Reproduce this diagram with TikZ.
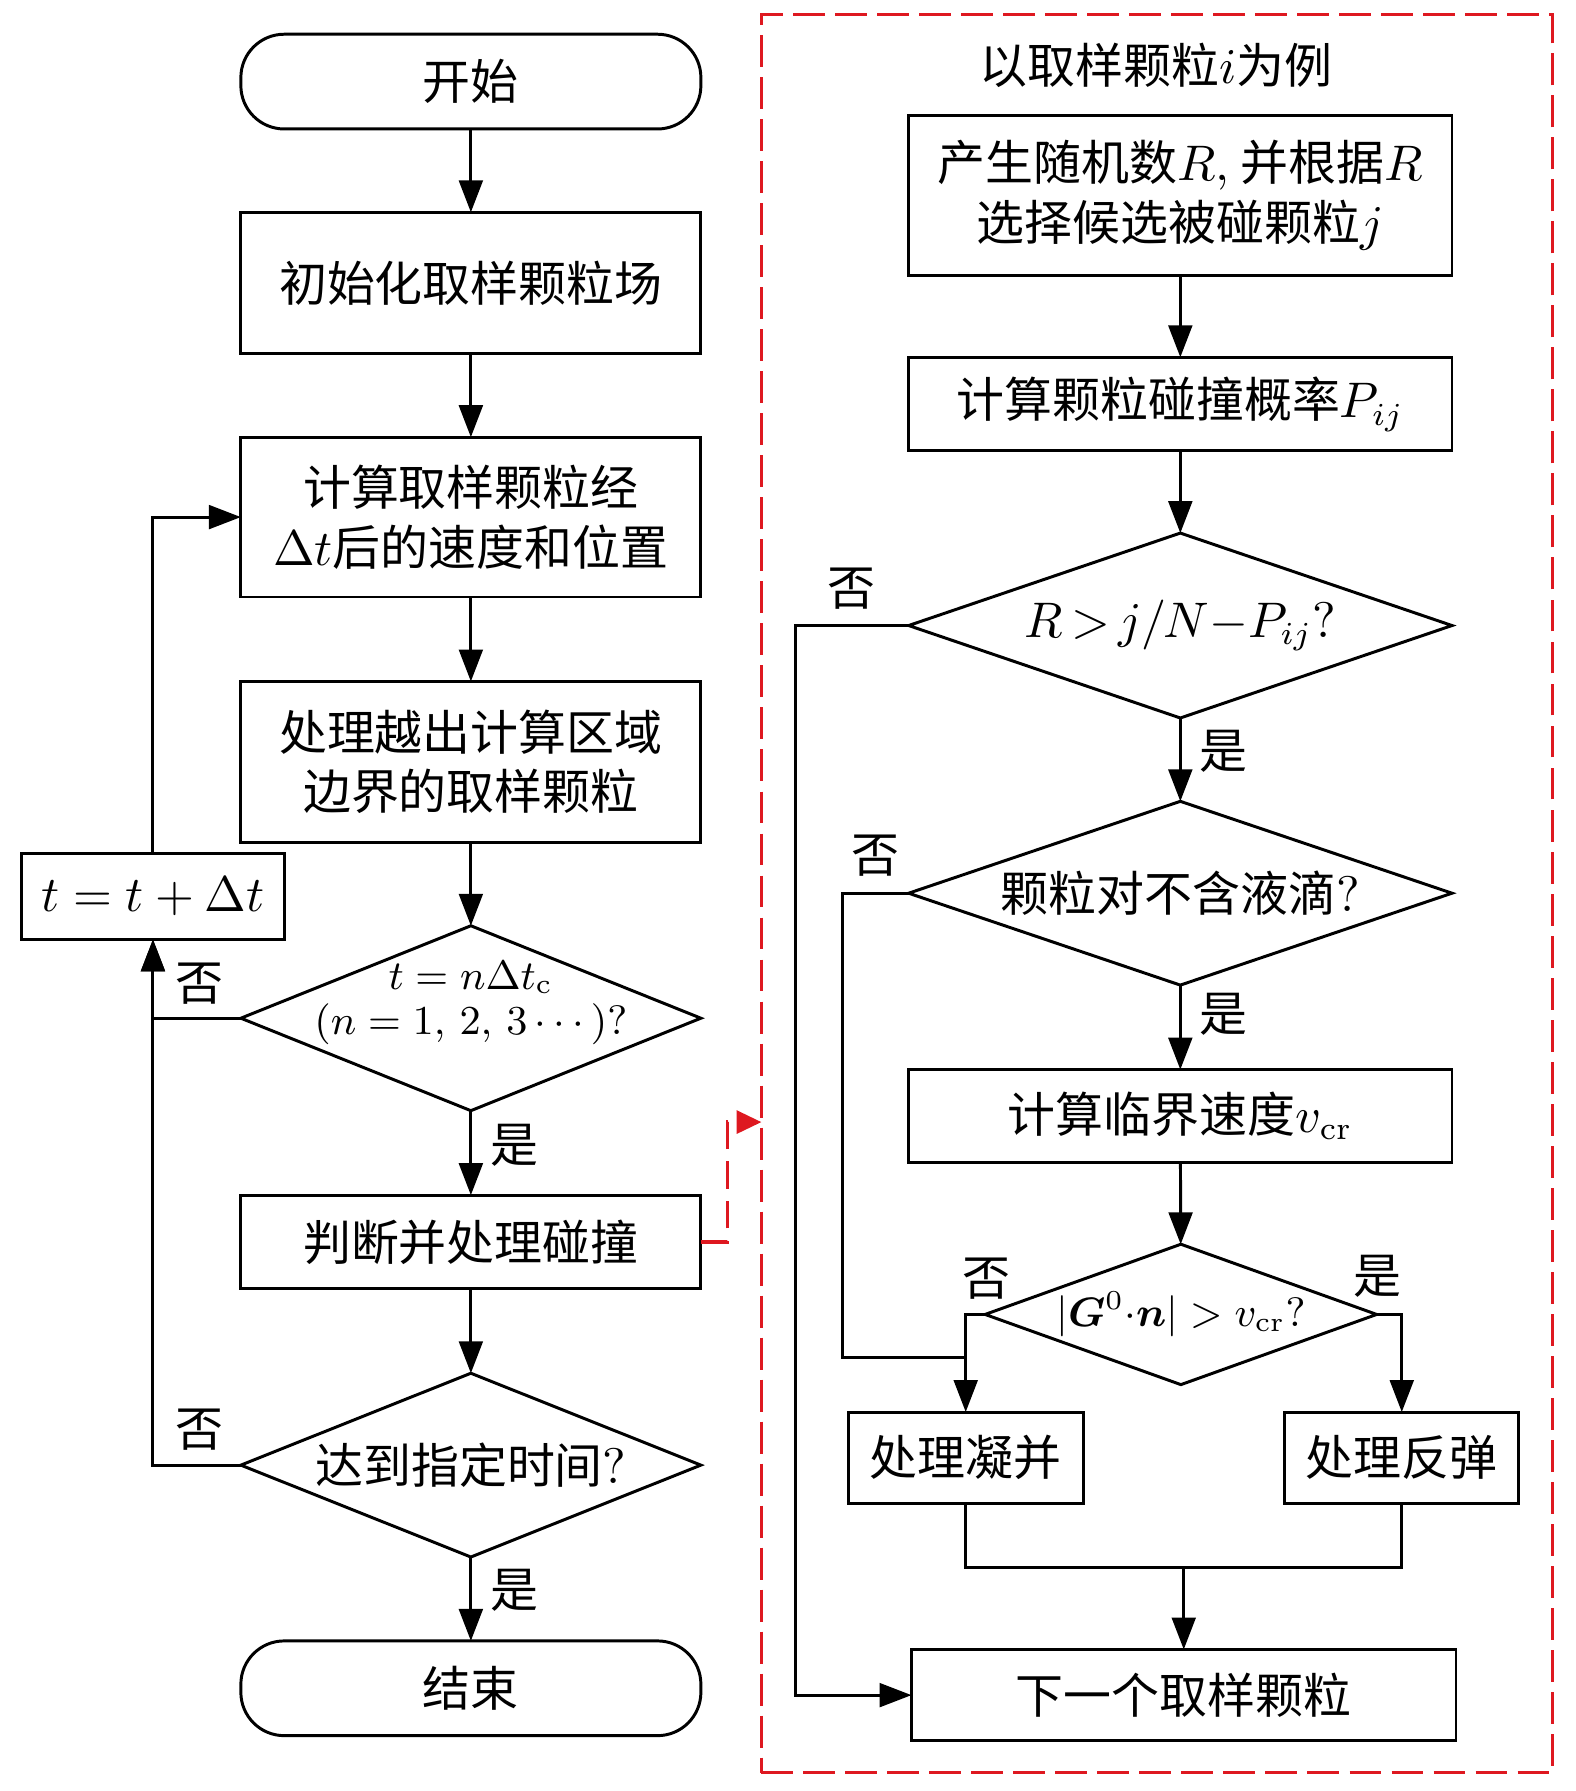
\documentclass[tikz,border=0pt]{standalone}
\usepackage{amsmath}
\usepackage[no-math]{fontspec}
\newfontfamily\cjk{Noto Sans CJK SC}
\usetikzlibrary{shapes.geometric,arrows.meta}
\definecolor{framered}{RGB}{222,24,32}
\begin{document}
\begin{tikzpicture}[x=0.25pt,y=-0.25pt,
  every node/.style={font=\cjk\fontsize{10.5}{13}\selectfont},
  proc/.style={draw,line width=0.65pt,inner sep=0pt,outer sep=0pt,align=center},
  term/.style={proc,rounded corners=9.5pt,minimum width=100.75pt,minimum height=20.75pt},
  decision/.style={draw,diamond,aspect=2.5,line width=0.65pt,inner sep=0pt,outer sep=0pt},
  arr/.style={line width=0.65pt,-{Triangle[length=7pt,width=5.2pt]}},
  link/.style={line width=0.65pt},
  subframe/.style={draw=framered,line width=0.6pt,dash pattern=on 7pt off 2.2pt,inner sep=0pt,outer sep=0pt},
  redarr/.style={framered,line width=0.7pt,dash pattern=on 6pt off 2.7pt,-{Triangle[length=5.4pt,width=5pt]}}
]
\useasboundingbox (0,0) rectangle (1380,1569);
% main loop
\node[term] (start) at (412.5,71.5) {开始};
\node[proc,minimum width=100.75pt,minimum height=31pt] (init) at (412.5,248) {初始化取样颗粒场};
\node[proc,minimum width=100.75pt,minimum height=35pt] (move) at (412.5,453) {计算取样颗粒经\\$\Delta t$后的速度和位置};
\node[proc,minimum width=100.75pt,minimum height=35.25pt] (bound) at (412.5,667.5) {处理越出计算区域\\边界的取样颗粒};
\node[decision,minimum width=100.75pt,minimum height=40.5pt,font=\fontsize{9}{10}\selectfont] (sample) at (412.5,892)
  {\raisebox{1.1pt}[0pt][0pt]{\makebox[0pt]{\begin{tabular}{@{}c@{}}$t=n\Delta t_\mathrm{c}$\\$(n=1,\,2,\,3\cdots)?$\end{tabular}}}};
\node[proc,minimum width=100.75pt,minimum height=20.5pt] (coll) at (412.5,1088) {判断并处理碰撞};
\node[decision,minimum width=100.75pt,minimum height=40.25pt] (done) at (412.5,1283.5) {\makebox[0pt]{达到指定时间$?$}};
\node[term] (stop) at (412.5,1479) {结束};
\node[proc,minimum width=57.5pt,minimum height=18.75pt] (tstep) at (134,785.5) {$t=t+\Delta t$};
% collision subroutine
\node[subframe,minimum width=173.25pt,minimum height=385pt] (sub) at (1013.5,783) {};
\node (title) at (1013,57) {以取样颗粒$i$为例};
\node[proc,minimum width=119pt,minimum height=35pt] (pick) at (1034,171) {产生随机数$R,$ 并根据$R$\\选择候选被碰颗粒$j$};
\node[proc,minimum width=119pt,minimum height=20.5pt] (prob) at (1034,354) {计算颗粒碰撞概率$P_{ij}$};
\node[decision,minimum width=119pt,minimum height=40.5pt] (accept) at (1034,548) {\makebox[0pt]{$R{\,>\,}j/N{-}P_{ij}?$}};
\node[decision,minimum width=119pt,minimum height=40.25pt] (pair) at (1034,782.5) {\makebox[0pt]{颗粒对不含液滴$?$}};
\node[proc,minimum width=119pt,minimum height=20.25pt] (vcrit) at (1034,977.5) {计算临界速度$v_\mathrm{cr}$};
\node[decision,minimum width=85.75pt,minimum height=30.75pt,font=\fontsize{9}{11}\selectfont] (impact) at (1034.5,1151.5)
  {\makebox[0pt]{$|\boldsymbol{G}^0{\cdot}\boldsymbol{n}|>v_\mathrm{cr}?$}};
\node[proc,minimum width=51.5pt,minimum height=20pt] (merge) at (846,1277) {处理凝并};
\node[proc,minimum width=51.25pt,minimum height=20pt] (bounce) at (1228,1277) {处理反弹};
\node[proc,minimum width=119.25pt,minimum height=20pt] (next) at (1037,1485) {下一个取样颗粒};
% yes / no labels
\node (no1) at (175,862) {否};
\node (no2) at (175,1252) {否};
\node (yes1) at (451,1003) {是};
\node (yes2) at (451,1393) {是};
\node (no3) at (746,516) {否};
\node (yes3) at (1072,658) {是};
\node (no4) at (767,750) {否};
\node (yes4) at (1072,889) {是};
\node (no5) at (864,1120) {否};
\node (yes5) at (1207,1118) {是};
\coordinate (inlet) at (667,983);
\coordinate (j1) at (846,1189);
\coordinate (j2) at (1037,1373);
% main flow
\draw[arr] (start) -- (init);
\draw[arr] (init) -- (move);
\draw[arr] (move) -- (bound);
\draw[arr] (bound) -- (sample);
\draw[arr] (sample) -- (coll);
\draw[arr] (coll) -- (done);
\draw[arr] (done) -- (stop);
% time loop
\draw[arr] (sample.west) -| (tstep.south);
\draw[arr] (done.west) -| (tstep.south);
\draw[arr] (tstep.north) |- (move.west);
% into subroutine
\draw[redarr] (coll.east) -- ++(23,0) |- (inlet);
% subroutine flow
\draw[arr] (pick) -- (prob);
\draw[arr] (prob) -- (accept);
\draw[arr] (accept) -- (pair);
\draw[arr] (pair) -- (vcrit);
\draw[arr] (vcrit) -- (impact);
\draw[arr] (impact.west) -| (merge.north);
\draw[arr] (impact.east) -| (bounce.north);
\draw[link] (pair.west) -- ++(-58,0) |- (j1);
\draw[arr] (accept.west) -- ++(-99,0) |- (next.west);
\draw[link] (merge.south) |- (j2) -| (bounce.south);
\draw[arr] (j2) -- (next.north);
\end{tikzpicture}
\end{document}
